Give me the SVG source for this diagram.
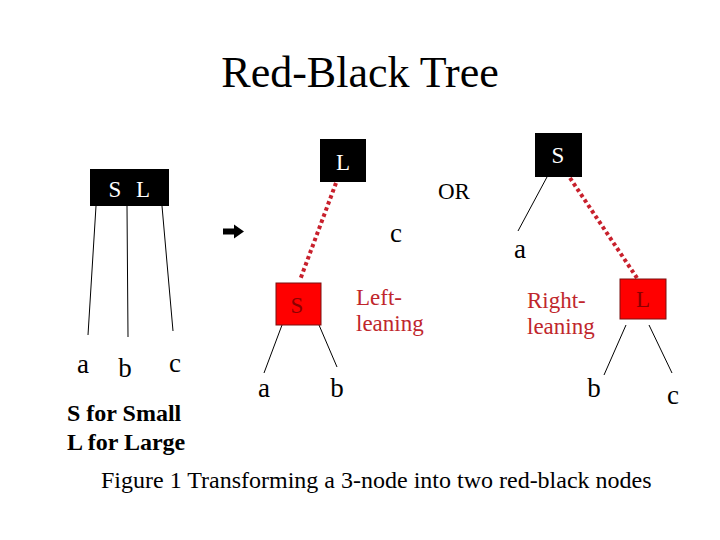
<svg xmlns="http://www.w3.org/2000/svg" width="720" height="540" viewBox="0 0 720 540">
<style>
text{font-family:"Liberation Serif","Times New Roman",serif;}
.lbl{font-size:27px;fill:#000;}
.nw{font-size:23px;fill:#fff;text-anchor:middle;}
.nr{font-size:23px;fill:#8b0000;text-anchor:middle;}
.red{font-size:23px;fill:#c0262c;}
.blk{fill:#000;}
.rbox{fill:#ff0000;stroke:#7a1010;stroke-width:1;}
.edge{stroke:#000;stroke-width:1;fill:none;}
.dot{stroke:#c8202c;stroke-width:4;stroke-dasharray:3.5 3;fill:none;}
.bold{font-size:24px;font-weight:bold;}
</style>
<rect width="720" height="540" fill="#fff"/>
<text x="360" y="87" font-size="44" text-anchor="middle">Red-Black Tree</text>
<g id="connectors">
<line class="edge" x1="96" y1="206" x2="88" y2="335"/>
<line class="edge" x1="127" y1="206" x2="128" y2="337"/>
<line class="edge" x1="162" y1="206" x2="173" y2="331"/>
<line class="dot" x1="336" y1="183" x2="300" y2="280"/>
<line class="edge" x1="282" y1="325" x2="264" y2="373"/>
<line class="edge" x1="319" y1="325" x2="337" y2="367"/>
<line class="edge" x1="547" y1="177" x2="518" y2="231"/>
<line class="dot" x1="570" y1="178" x2="637" y2="278"/>
<line class="edge" x1="626" y1="325" x2="604" y2="375"/>
<line class="edge" x1="649" y1="325" x2="672" y2="373"/>
</g>
<g id="node-SL">
<rect class="blk" x="90" y="169" width="79" height="37"/>
<text class="nw" y="197"><tspan x="115">S</tspan><tspan x="143">L</tspan></text>
</g>
<g id="node-L-top">
<rect class="blk" x="320" y="139" width="46" height="43"/>
<text class="nw" x="343" y="170">L</text>
</g>
<g id="node-S-red">
<rect class="rbox" x="276" y="283" width="45" height="42"/>
<text class="nr" x="297" y="313">S</text>
</g>
<g id="node-S-top">
<rect class="blk" x="535" y="133" width="47" height="44"/>
<text class="nw" x="558" y="163">S</text>
</g>
<g id="node-L-red">
<rect class="rbox" x="620" y="279" width="46" height="40"/>
<text class="nr" x="643" y="307">L</text>
</g>
<g id="arrow">
<path d="M223,228.5 H234 V224.5 L244,231.5 L234,238.5 V234.5 H223 Z" fill="#000"/>
</g>
<g id="labels">
<text class="lbl" x="83" y="373" text-anchor="middle">a</text>
<text class="lbl" x="125" y="377" text-anchor="middle">b</text>
<text class="lbl" x="175" y="372" text-anchor="middle">c</text>
<text class="lbl" x="396" y="242" text-anchor="middle">c</text>
<text class="lbl" x="264" y="397" text-anchor="middle">a</text>
<text class="lbl" x="337" y="397" text-anchor="middle">b</text>
<text class="lbl" x="520" y="258" text-anchor="middle">a</text>
<text class="lbl" x="594" y="397" text-anchor="middle">b</text>
<text class="lbl" x="673" y="404" text-anchor="middle">c</text>
<text x="438" y="199" font-size="23">OR</text>
<text class="red" x="356" y="305">Left-</text>
<text class="red" x="356" y="331">leaning</text>
<text class="red" x="527" y="308">Right-</text>
<text class="red" x="527" y="334">leaning</text>
<text class="bold" x="67" y="421">S for Small</text>
<text class="bold" x="67" y="450">L for Large</text>
<text x="101" y="488" font-size="24">Figure 1 Transforming a 3-node into two red-black nodes</text>
</g>
</svg>
